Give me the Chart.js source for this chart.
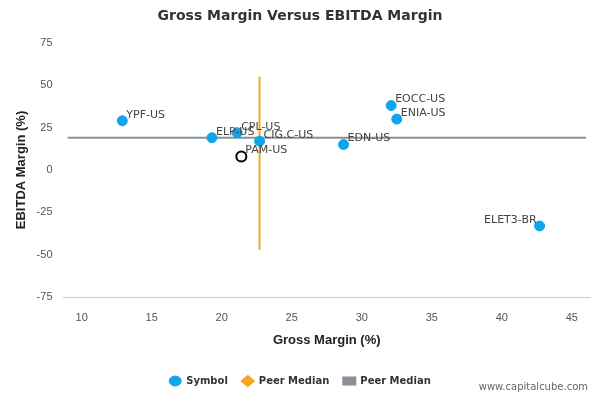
<!DOCTYPE html>
<html><head><meta charset="utf-8">
<script src="https://cdn.jsdelivr.net/npm/chart.js@4/dist/chart.umd.min.js"></script>
<style>body{margin:0;background:#fff}#w{position:relative;width:600px;height:400px}
#c{position:absolute;right:12px;bottom:8px;font:10px "DejaVu Sans",sans-serif;color:#666}</style>
</head><body><div id="w"><canvas id="cv" width="600" height="400"></canvas><div id="c">www.capitalcube.com</div></div>
<script>
const names=["YPF-US","ELP-US","CPL-US","CIG.C-US","EDN-US","EOCC-US","ENIA-US","ELET3-BR"];
const gross=[12.9,19.3,21.1,22.7,28.7,32.1,32.5,42.7];
const ebitda=[29,19,22,17,15,38,30,-33];
const subjName="PAM-US", subjGross=21.4, subjEbitda=8;
const medGross=22.7, medEbitda=19;
const vLineY=[-47,55], hLineX=[9,46];
const labelPlugin={id:"lbl",afterDatasetsDraw(ch){const c=ch.ctx,xs=ch.scales.x,ys=ch.scales.y;c.save();c.font="11px 'DejaVu Sans',sans-serif";c.fillStyle="#444";
 names.forEach((n,i)=>{const x=xs.getPixelForValue(gross[i]),y=ys.getPixelForValue(ebitda[i]);
  if(n==="ELET3-BR"){c.textAlign="right";c.fillText(n,x-3,y-6);}else{c.textAlign="left";c.fillText(n,x+4,y-6);}});
 c.textAlign="left";c.fillText(subjName,xs.getPixelForValue(subjGross)+4,ys.getPixelForValue(subjEbitda)-6);c.restore();}};
new Chart(document.getElementById("cv"),{type:"scatter",
data:{datasets:[
{label:"Symbol",data:gross.map((g,i)=>({x:g,y:ebitda[i]})),backgroundColor:"#0ea5ec",borderColor:"#0ea5ec",pointRadius:5,pointStyle:"circle"},
{label:"Peer Median",type:"line",data:vLineY.map(v=>({x:medGross,y:v})),borderColor:"#f5a623",backgroundColor:"#f5a623",borderWidth:2,pointRadius:0,pointStyle:"rectRot"},
{label:"Peer Median",type:"line",data:hLineX.map(v=>({x:v,y:medEbitda})),borderColor:"#8a8f98",backgroundColor:"#8a8f98",borderWidth:2,pointRadius:0,pointStyle:"rect"},
{label:"subject",data:[{x:subjGross,y:subjEbitda}],backgroundColor:"#fff",borderColor:"#000",borderWidth:2,pointRadius:5}
]},
plugins:[labelPlugin],
options:{responsive:false,animation:false,layout:{padding:{left:10,right:10,top:0,bottom:4}},
plugins:{title:{display:true,text:"Gross Margin Versus EBITDA Margin",font:{size:14,weight:"bold",family:"'DejaVu Sans',sans-serif"},color:"#333",padding:{top:8,bottom:18}},
legend:{position:"bottom",labels:{filter:l=>l.datasetIndex<3,usePointStyle:true,pointStyleWidth:12,boxHeight:7,font:{size:10,weight:"bold",family:"'DejaVu Sans',sans-serif"},color:"#333",padding:14}},tooltip:{enabled:false}},
scales:{x:{min:8.7,max:46.3,afterBuildTicks:a=>{a.ticks=[10,15,20,25,30,35,40,45].map(v=>({value:v}))},grid:{display:false},border:{color:"#ccc"},ticks:{color:"#555",font:{size:11},padding:6},title:{display:true,text:"Gross Margin (%)",font:{size:13,weight:"bold"},color:"#222",padding:{top:2,bottom:14}}},
y:{min:-75,max:75,ticks:{stepSize:25,color:"#555",font:{size:11}},grid:{display:false},border:{display:false},title:{display:true,text:"EBITDA Margin (%)",font:{size:13,weight:"bold"},color:"#222"}}}}});
</script></body></html>
